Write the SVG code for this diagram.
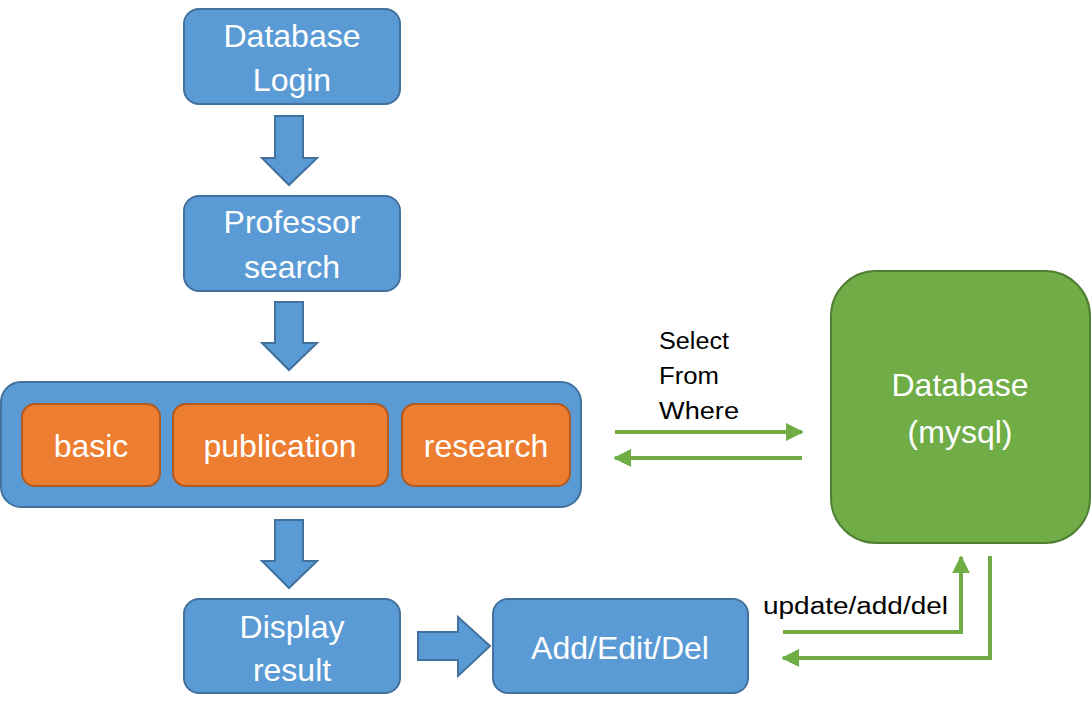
<svg xmlns="http://www.w3.org/2000/svg" width="1092" height="715" viewBox="0 0 1092 715">
<defs>
<style>
.b{fill:#5B9BD5;stroke:#41719C;stroke-width:2}
.o{fill:#ED7D31;stroke:#AE5A21;stroke-width:2}
.g{fill:#70AD47;stroke:#507E32;stroke-width:2}
.t{font-family:"Liberation Sans",Arial,sans-serif;font-size:32px;fill:#fff;text-anchor:middle}
.s{font-family:"Liberation Sans",Arial,sans-serif;font-size:23px;fill:#000}
.ln{fill:none;stroke:#70AD47;stroke-width:4}
</style>
<marker id="ah" viewBox="0 0 10 10" refX="9" refY="5" markerWidth="4.5" markerHeight="4.5" markerUnits="strokeWidth" orient="auto">
<path d="M0,0 L10,5 L0,10 Z" fill="#70AD47"/>
</marker>
</defs>
<rect width="1092" height="715" fill="#fff"/>
<g id="login"><rect class="b" x="184" y="9" width="216" height="95" rx="15"/><text class="t" x="292" y="47">Database</text><text class="t" x="292" y="91">Login</text></g>
<g id="profsearch"><rect class="b" x="184" y="196" width="216" height="95" rx="15"/><text class="t" x="292" y="233">Professor</text><text class="t" x="292" y="278">search</text></g>
<g id="container"><rect class="b" x="1" y="382" width="580" height="125" rx="20"/></g>
<g id="basic"><rect class="o" x="22" y="404" width="138" height="82" rx="13"/><text class="t" x="91" y="457">basic</text></g>
<g id="publication"><rect class="o" x="173" y="404" width="215" height="82" rx="13"/><text class="t" x="280" y="457">publication</text></g>
<g id="research"><rect class="o" x="402" y="404" width="168" height="82" rx="13"/><text class="t" x="486" y="457">research</text></g>
<g id="mysql"><rect class="g" x="831" y="271" width="259" height="272" rx="45"/><text class="t" x="960" y="396">Database</text><text class="t" x="960" y="443">(mysql)</text></g>
<g id="display"><rect class="b" x="184" y="599" width="216" height="94" rx="15"/><text class="t" x="292" y="638">Display</text><text class="t" x="292" y="681">result</text></g>
<g id="addedit"><rect class="b" x="493" y="599" width="255" height="94" rx="15"/><text class="t" x="620" y="659">Add/Edit/Del</text></g>
<g id="connectors">
<polygon class="b" points="275,116 303,116 303,158 317,158 289,185 262,158 275,158"/>
<polygon class="b" points="275,302 303,302 303,343 317,343 289,370 262,343 275,343"/>
<polygon class="b" points="275,520 303,520 303,561 317,561 289,588 262,561 275,561"/>
<polygon class="b" points="418,632 458,632 458,617 490,646 458,676 458,660 418,660"/>
<line class="ln" x1="615" y1="432" x2="802" y2="432" marker-end="url(#ah)"/>
<line class="ln" x1="802" y1="458" x2="615" y2="458" marker-end="url(#ah)"/>
<polyline class="ln" points="783,632 961,632 961,557" marker-end="url(#ah)"/>
<polyline class="ln" points="990,556 990,658 783,658" marker-end="url(#ah)"/>
</g>
<g id="labels">
<text class="s" x="659" y="349" textLength="70" lengthAdjust="spacingAndGlyphs">Select</text>
<text class="s" x="659" y="384" textLength="60" lengthAdjust="spacingAndGlyphs">From</text>
<text class="s" x="659" y="419" textLength="80" lengthAdjust="spacingAndGlyphs">Where</text>
<text class="s" x="763" y="614" textLength="185" lengthAdjust="spacingAndGlyphs">update/add/del</text>
</g>
</svg>
